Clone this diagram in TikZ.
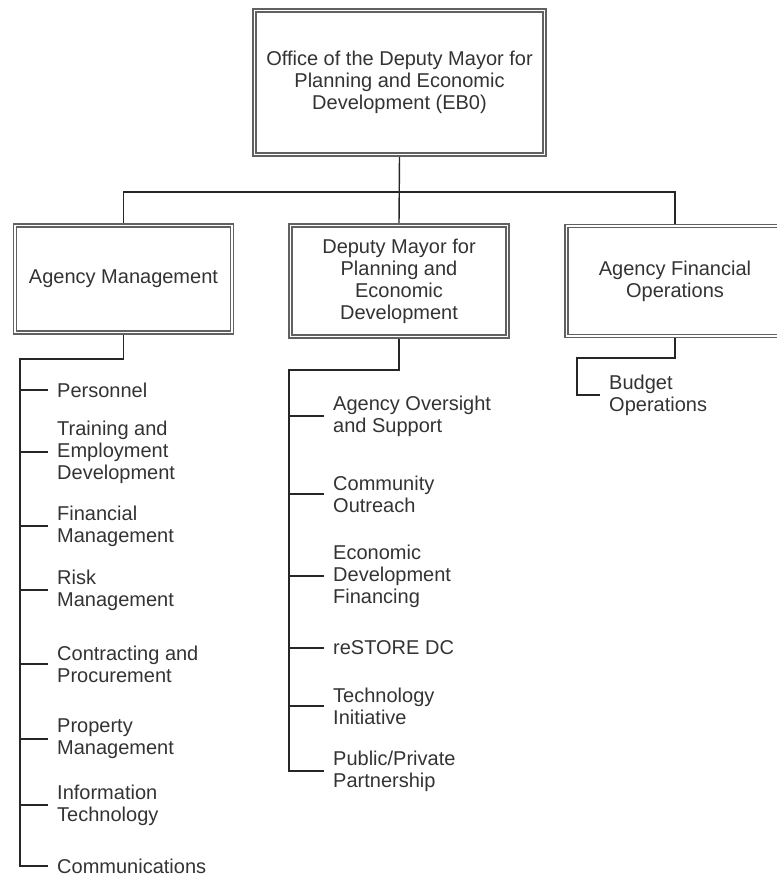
\documentclass[tikz,border=0pt]{standalone}
\usepackage{fontspec}
\setmainfont{Liberation Sans}
\usetikzlibrary{backgrounds}
\begin{document}
\begin{tikzpicture}[x=1pt,y=-1pt,
  every node/.style={font=\fontsize{20}{22}\selectfont, text=black!80},
  orgbox/.style={draw=black!62, line width=1.5pt, double=white, double distance=1.8pt,
     fill=white, align=center, inner sep=0pt, minimum width=217pt},
  item/.style={anchor=west, align=left, inner xsep=9pt, inner ysep=0pt},
  conn/.style={draw=black!85, line width=1.4pt}]
\useasboundingbox (0,0) rectangle (776,877);
% boxes
\node[orgbox, minimum width=290pt, minimum height=144pt] (top) at (399.5,82.5)
  {Office of the Deputy Mayor for\\Planning and Economic\\Development (EB0)};
\node[orgbox, minimum height=107pt] (left) at (123.5,279) {Agency Management};
\node[orgbox, minimum height=111pt] (mid) at (399,281)
  {Deputy Mayor for\\Planning and\\Economic\\Development};
\node[orgbox, minimum height=110pt] (right) at (675,281)
  {Agency Financial\\Operations};
% left items
\node[item] (pers)  at (48,390) {Personnel};
\node[item] (train) at (48,452) {Training and\\Employment\\Development};
\node[item] (fin)   at (48,526) {Financial\\Management};
\node[item] (risk)  at (48,590) {Risk\\Management};
\node[item] (contr) at (48,664) {Contracting and\\Procurement};
\node[item] (prop)  at (48,739) {Property\\Management};
\node[item] (info)  at (48,805) {Information\\Technology};
\node[item] (comm)  at (48,866) {Communications};
% middle items
\node[item] (aos)  at (324,416) {Agency Oversight\\and Support};
\node[item] (co)   at (324,494) {Community\\Outreach};
\node[item] (edf)  at (324,576) {Economic\\Development\\Financing};
\node[item] (rest) at (324,648) {reSTORE DC};
\node[item] (ti)   at (324,706) {Technology\\Initiative};
\node[item] (ppp)  at (324,771) {Public/Private\\Partnership};
% right items
\node[item] (bud) at (600,395) {Budget\\Operations};
% connectors
\coordinate (hb) at (399.5,192);
\coordinate (lc) at (20,359);
\coordinate (mc) at (289,370);
\coordinate (rc) at (577,358);
\begin{pgfonlayer}{background}
\draw[conn] (top.south) -- (mid.north);
\draw[conn] (left.north) |- (hb) -| (right.north);
\draw[conn] (left.south) |- (lc) |- (comm.west);
\foreach \n in {pers,train,fin,risk,contr,prop,info}
  \draw[conn] (lc |- \n.west) -- (\n.west);
\draw[conn] (mid.south) |- (mc) |- (ppp.west);
\foreach \n in {aos,co,edf,rest,ti}
  \draw[conn] (mc |- \n.west) -- (\n.west);
\draw[conn] (right.south) |- (rc) |- (bud.west);
\end{pgfonlayer}
\end{tikzpicture}
\end{document}
